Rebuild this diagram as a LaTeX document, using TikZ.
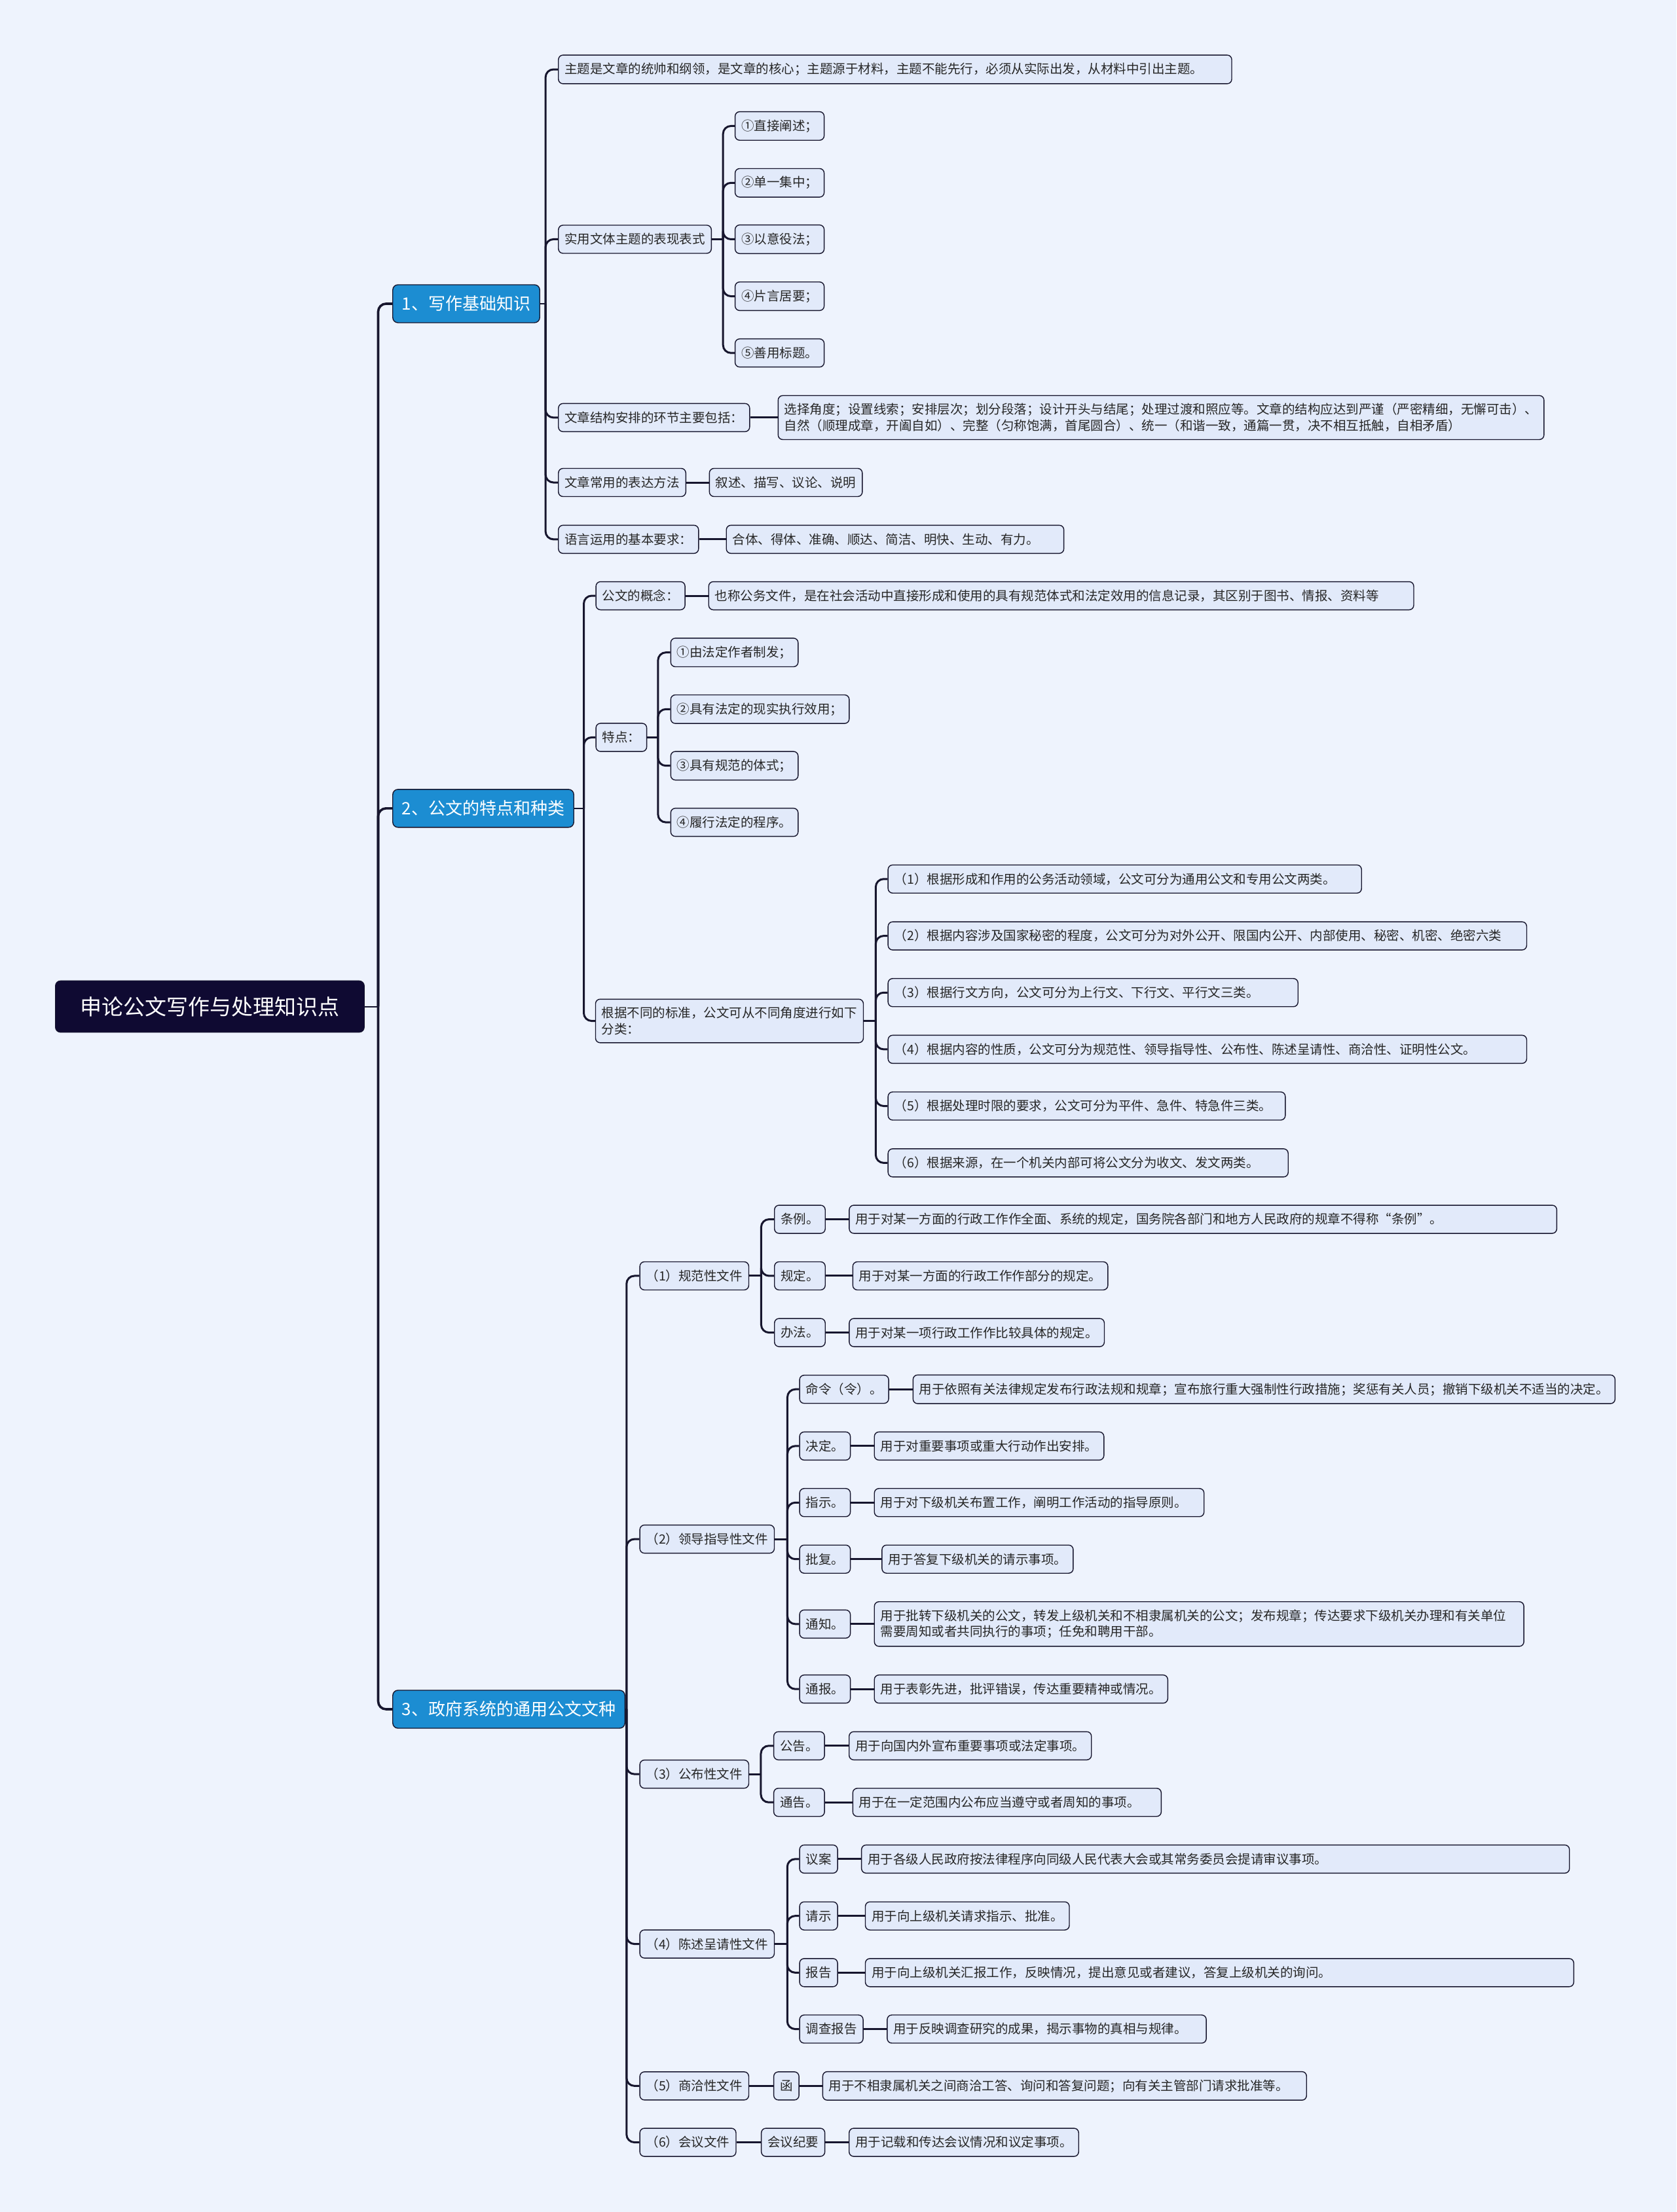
\documentclass[tikz,border=0pt]{standalone}
\usepackage{fontspec}
\setmainfont{Noto Sans CJK SC}
\usepackage{tikz}
\usetikzlibrary{positioning}
\usepackage{xcolor}
\definecolor{bgblue}{HTML}{EEF3FD}
\definecolor{leaffill}{HTML}{E2EAFA}
\definecolor{inkline}{HTML}{17162E}
\definecolor{topicblue}{HTML}{1C8DD2}
\definecolor{rootnavy}{HTML}{0F0A32}
\tikzset{
  rootbox/.style={draw=inkline,fill=rootnavy,text=white,rounded corners=4pt,anchor=west,minimum height=39.5pt,inner xsep=19pt,font=\fontsize{16.5}{20}\selectfont},
  topicbox/.style={draw=inkline,line width=0.7pt,fill=topicblue,text=white,rounded corners=4pt,anchor=west,minimum height=29pt,inner xsep=7pt,font=\fontsize{13}{16}\selectfont},
  itembox/.style={draw=inkline,line width=0.7pt,fill=leaffill,text=black!85,rounded corners=3.5pt,anchor=west,minimum height=21.5pt,inner xsep=4.75pt,inner ysep=6pt,align=left,font=\fontsize{9.75}{12.2}\selectfont},
  boxwidth/.style={text width=#1pt},
  trunk/.style={draw=inkline,line width=1.8pt,rounded corners=6pt},
  link/.style={draw=inkline,line width=1.5pt,rounded corners=6pt},
  stub/.style={draw=inkline,line width=1pt}
}

\begin{document}
\begin{tikzpicture}[x=1.07744pt,y=-1.07744pt]
\fill[bgblue] (0,0) rectangle (1188,1568);
\useasboundingbox (0,0) rectangle (1188,1568);

\node[rootbox] (root) at (39,713.5) {申论公文写作与处理知识点};
\node[topicbox] (ta) at (278,215.3) {1、写作基础知识};
\node[topicbox] (tb) at (278,573) {2、公文的特点和种类};
\node[topicbox] (tc) at (278,1211.6) {3、政府系统的通用公文文种};

\node[itembox,boxwidth=504.6] (a1) at (395.4,49.2) {主题是文章的统帅和纲领，是文章的核心；主题源于材料，主题不能先行，必须从实际出发，从材料中引出主题。};
\node[itembox] (a2) at (395.4,169.6) {实用文体主题的表现表式};
\node[itembox] (a21) at (520.6,89.3) {①直接阐述；};
\node[itembox] (a22) at (520.6,129.6) {②单一集中；};
\node[itembox] (a23) at (520.6,169.6) {③以意役法；};
\node[itembox] (a24) at (520.6,210) {④片言居要；};
\node[itembox] (a25) at (520.6,250.2) {⑤善用标题。};
\node[itembox] (a3) at (395.4,296) {文章结构安排的环节主要包括：};
\node[itembox] (a31) at (551.1,296) {选择角度；设置线索；安排层次；划分段落；设计开头与结尾；处理过渡和照应等。文章的结构应达到严谨（严密精细，无懈可击）、\\自然（顺理成章，开阖自如）、完整（匀称饱满，首尾圆合）、统一（和谐一致，通篇一贯，决不相互抵触，自相矛盾）};
\node[itembox] (a4) at (395.4,342) {文章常用的表达方法};
\node[itembox] (a41) at (502.4,342) {叙述、描写、议论、说明};
\node[itembox] (a5) at (395.4,382.3) {语言运用的基本要求：};
\node[itembox,boxwidth=248.2] (a51) at (514.4,382.3) {合体、得体、准确、顺达、简洁、明快、生动、有力。};

\node[itembox] (b1) at (422,422.3) {公文的概念：};
\node[itembox,boxwidth=528.8] (b11) at (501.9,422.3) {也称公务文件，是在社会活动中直接形成和使用的具有规范体式和法定效用的信息记录，其区别于图书、情报、资料等};
\node[itembox] (b2) at (422,522.7) {特点：};
\node[itembox] (b21) at (475,462.5) {①由法定作者制发；};
\node[itembox] (b22) at (475,502.7) {②具有法定的现实执行效用；};
\node[itembox] (b23) at (475,542.8) {③具有规范的体式；};
\node[itembox] (b24) at (475,582.9) {④履行法定的程序。};
\node[itembox] (b3) at (421.7,723.7) {根据不同的标准，公文可从不同角度进行如下\\分类：};
\node[itembox,boxwidth=352] (b31) at (629,623.1) {（1）根据形成和作用的公务活动领域，公文可分为通用公文和专用公文两类。};
\node[itembox,boxwidth=478.1] (b32) at (629,663.4) {（2）根据内容涉及国家秘密的程度，公文可分为对外公开、限国内公开、内部使用、秘密、机密、绝密六类};
\node[itembox,boxwidth=303.5] (b33) at (629,703.6) {（3）根据行文方向，公文可分为上行文、下行文、平行文三类。};
\node[itembox,boxwidth=478.1] (b34) at (629,743.8) {（4）根据内容的性质，公文可分为规范性、领导指导性、公布性、陈述呈请性、商洽性、证明性公文。};
\node[itembox,boxwidth=293.8] (b35) at (629,784) {（5）根据处理时限的要求，公文可分为平件、急件、特急件三类。};
\node[itembox,boxwidth=296] (b36) at (629,824.3) {（6）根据来源，在一个机关内部可将公文分为收文、发文两类。};

\node[itembox] (c1) at (453.1,904.4) {（1）规范性文件};
\node[itembox] (c11) at (548.5,864.3) {条例。};
\node[itembox,boxwidth=530.7] (c111) at (601.5,864.3) {用于对某一方面的行政工作作全面、系统的规定，国务院各部门和地方人民政府的规章不得称“条例”。};
\node[itembox] (c12) at (548.5,904.4) {规定。};
\node[itembox] (c121) at (604,904.4) {用于对某一方面的行政工作作部分的规定。};
\node[itembox] (c13) at (548.5,944.6) {办法。};
\node[itembox] (c131) at (601.5,944.6) {用于对某一项行政工作作比较具体的规定。};
\node[itembox] (c2) at (453.1,1091) {（2）领导指导性文件};
\node[itembox] (c21) at (566.3,984.8) {命令（令）。};
\node[itembox] (c211) at (646.7,984.8) {用于依照有关法律规定发布行政法规和规章；宣布旅行重大强制性行政措施；奖惩有关人员；撤销下级机关不适当的决定。};
\node[itembox] (c22) at (566.3,1025) {决定。};
\node[itembox] (c221) at (619.3,1025) {用于对重要事项或重大行动作出安排。};
\node[itembox] (c23) at (566.3,1065.1) {指示。};
\node[itembox,boxwidth=242.2] (c231) at (619.3,1065.1) {用于对下级机关布置工作，阐明工作活动的指导原则。};
\node[itembox] (c24) at (566.3,1105.2) {批复。};
\node[itembox] (c241) at (624.7,1105.2) {用于答复下级机关的请示事项。};
\node[itembox] (c25) at (566.3,1151.2) {通知。};
\node[itembox,boxwidth=486.4] (c251) at (619.3,1151.2) {用于批转下级机关的公文，转发上级机关和不相隶属机关的公文；发布规章；传达要求下级机关办理和有关单位\\需要周知或者共同执行的事项；任免和聘用干部。};
\node[itembox] (c26) at (566.3,1197.3) {通报。};
\node[itembox] (c261) at (619.3,1197.3) {用于表彰先进，批评错误，传达重要精神或情况。};
\node[itembox] (c3) at (453.1,1257.6) {（3）公布性文件};
\node[itembox] (c31) at (548,1237.5) {公告。};
\node[itembox] (c311) at (601.4,1237.5) {用于向国内外宣布重要事项或法定事项。};
\node[itembox] (c32) at (548,1277.6) {通告。};
\node[itembox,boxwidth=226] (c321) at (604,1277.6) {用于在一定范围内公布应当遵守或者周知的事项。};
\node[itembox] (c4) at (453.1,1378) {（4）陈述呈请性文件};
\node[itembox] (c41) at (566.3,1317.8) {议案};
\node[itembox,boxwidth=531] (c411) at (610.2,1317.8) {用于各级人民政府按法律程序向同级人民代表大会或其常务委员会提请审议事项。};
\node[itembox] (c42) at (566.3,1358.1) {请示};
\node[itembox] (c421) at (612.9,1358.1) {用于向上级机关请求指示、批准。};
\node[itembox] (c43) at (566.3,1398.3) {报告};
\node[itembox,boxwidth=531.4] (c431) at (612.9,1398.3) {用于向上级机关汇报工作，反映情况，提出意见或者建议，答复上级机关的询问。};
\node[itembox] (c44) at (566.3,1438.3) {调查报告};
\node[itembox,boxwidth=234.1] (c441) at (628.4,1438.3) {用于反映调查研究的成果，揭示事物的真相与规律。};
\node[itembox] (c5) at (453.1,1478.6) {（5）商洽性文件};
\node[itembox] (c51) at (548,1478.6) {函};
\node[itembox,boxwidth=359.9] (c511) at (582.7,1478.6) {用于不相隶属机关之间商洽工答、询问和答复问题；向有关主管部门请求批准等。};
\node[itembox] (c6) at (453.1,1518.6) {（6）会议文件};
\node[itembox] (c61) at (539.2,1518.6) {会议纪要};
\node[itembox] (c611) at (601.4,1518.6) {用于记载和传达会议情况和议定事项。};

\coordinate (s0) at (268,713.5);
\coordinate (sa) at (386.6,215.3);
\coordinate (sa2) at (512.4,169.6);
\coordinate (sb) at (413.7,573);
\coordinate (sb2) at (466.3,522.7);
\coordinate (sb3) at (620.6,723.7);
\coordinate (sc) at (444,1211.6);
\coordinate (sc1) at (539.4,904.4);
\coordinate (sc2) at (558,1091);
\coordinate (sc3) at (539.2,1257.6);
\coordinate (sc4) at (557.9,1378);

\draw[stub] (root.east) -- (s0);
\draw[trunk] (s0) |- (ta.west);
\draw[trunk] (s0) |- (tb.west);
\draw[trunk] (s0) |- (tc.west);

\draw[stub] (ta.east) -- (sa);
\draw[link] (sa) |- (a1.west);
\draw[link] (sa) |- (a2.west);
\draw[link] (sa) |- (a3.west);
\draw[link] (sa) |- (a4.west);
\draw[link] (sa) |- (a5.west);
\draw[link] (a2.east) -- (sa2);
\draw[link] (sa2) |- (a21.west);
\draw[link] (sa2) |- (a22.west);
\draw[link] (sa2) |- (a23.west);
\draw[link] (sa2) |- (a24.west);
\draw[link] (sa2) |- (a25.west);
\draw[link] (a3.east) -- (a31.west);
\draw[link] (a4.east) -- (a41.west);
\draw[link] (a5.east) -- (a51.west);

\draw[stub] (tb.east) -- (sb);
\draw[link] (sb) |- (b1.west);
\draw[link] (sb) |- (b2.west);
\draw[link] (sb) |- (b3.west);
\draw[link] (b1.east) -- (b11.west);
\draw[link] (b2.east) -- (sb2);
\draw[link] (sb2) |- (b21.west);
\draw[link] (sb2) |- (b22.west);
\draw[link] (sb2) |- (b23.west);
\draw[link] (sb2) |- (b24.west);
\draw[link] (b3.east) -- (sb3);
\draw[link] (sb3) |- (b31.west);
\draw[link] (sb3) |- (b32.west);
\draw[link] (sb3) |- (b33.west);
\draw[link] (sb3) |- (b34.west);
\draw[link] (sb3) |- (b35.west);
\draw[link] (sb3) |- (b36.west);

\draw[stub] (tc.east) -- (sc);
\draw[link] (sc) |- (c1.west);
\draw[link] (sc) |- (c2.west);
\draw[link] (sc) |- (c3.west);
\draw[link] (sc) |- (c4.west);
\draw[link] (sc) |- (c5.west);
\draw[link] (sc) |- (c6.west);
\draw[link] (c1.east) -- (sc1);
\draw[link] (sc1) |- (c11.west);
\draw[link] (sc1) |- (c12.west);
\draw[link] (sc1) |- (c13.west);
\draw[link] (c11.east) -- (c111.west);
\draw[link] (c12.east) -- (c121.west);
\draw[link] (c13.east) -- (c131.west);
\draw[link] (c2.east) -- (sc2);
\draw[link] (sc2) |- (c21.west);
\draw[link] (sc2) |- (c22.west);
\draw[link] (sc2) |- (c23.west);
\draw[link] (sc2) |- (c24.west);
\draw[link] (sc2) |- (c25.west);
\draw[link] (sc2) |- (c26.west);
\draw[link] (c21.east) -- (c211.west);
\draw[link] (c22.east) -- (c221.west);
\draw[link] (c23.east) -- (c231.west);
\draw[link] (c24.east) -- (c241.west);
\draw[link] (c25.east) -- (c251.west);
\draw[link] (c26.east) -- (c261.west);
\draw[link] (c3.east) -- (sc3);
\draw[link] (sc3) |- (c31.west);
\draw[link] (sc3) |- (c32.west);
\draw[link] (c31.east) -- (c311.west);
\draw[link] (c32.east) -- (c321.west);
\draw[link] (c4.east) -- (sc4);
\draw[link] (sc4) |- (c41.west);
\draw[link] (sc4) |- (c42.west);
\draw[link] (sc4) |- (c43.west);
\draw[link] (sc4) |- (c44.west);
\draw[link] (c41.east) -- (c411.west);
\draw[link] (c42.east) -- (c421.west);
\draw[link] (c43.east) -- (c431.west);
\draw[link] (c44.east) -- (c441.west);
\draw[link] (c5.east) -- (c51.west);
\draw[link] (c51.east) -- (c511.west);
\draw[link] (c6.east) -- (c61.west);
\draw[link] (c61.east) -- (c611.west);
\end{tikzpicture}
\end{document}
